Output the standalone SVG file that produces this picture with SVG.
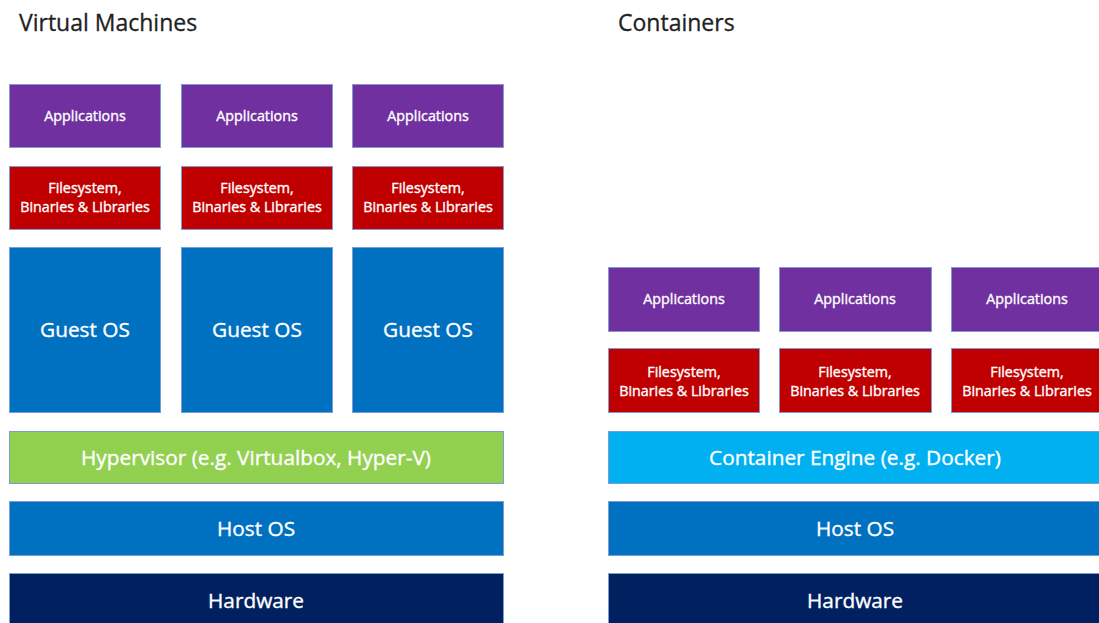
<svg xmlns="http://www.w3.org/2000/svg" width="1099" height="623" viewBox="0 0 1099 623">
<style>
rect{stroke:#7F9CD0;stroke-width:1}
rect.bg{fill:#fff;stroke:none}
.app{fill:#7030A0}
.fs{fill:#C00000}
.os{fill:#0070C0}
.hv{fill:#92D050}
.ce{fill:#00B0F0}
.hw{fill:#002060}
text{font-family:"Open Sans","DejaVu Sans",sans-serif;fill:#fff;stroke:#fff;stroke-width:0.35;text-anchor:middle}
.s{font-size:14.3px}
.l{font-size:20.8px}
.t{font-size:23px;fill:#222;stroke:#222;stroke-width:0.3;text-anchor:start}
</style>
<rect class="bg" width="1099" height="623"/>
<text class="t" x="19" y="31">Virtual Machines</text>
<text class="t" x="618" y="31">Containers</text>

<g id="vm-app1"><rect class="app" x="9.5" y="84.5" width="151" height="63"/><text class="s" x="85" y="121">Applications</text></g>
<g id="vm-app2"><rect class="app" x="181.5" y="84.5" width="151" height="63"/><text class="s" x="257" y="121">Applications</text></g>
<g id="vm-app3"><rect class="app" x="352.5" y="84.5" width="151" height="63"/><text class="s" x="428" y="121">Applications</text></g>

<g id="vm-fs1"><rect class="fs" x="9.5" y="166.5" width="151" height="63"/><text class="s" x="85" y="193">Filesystem,</text><text class="s" x="85" y="212">Binaries &amp; Libraries</text></g>
<g id="vm-fs2"><rect class="fs" x="181.5" y="166.5" width="151" height="63"/><text class="s" x="257" y="193">Filesystem,</text><text class="s" x="257" y="212">Binaries &amp; Libraries</text></g>
<g id="vm-fs3"><rect class="fs" x="352.5" y="166.5" width="151" height="63"/><text class="s" x="428" y="193">Filesystem,</text><text class="s" x="428" y="212">Binaries &amp; Libraries</text></g>

<g id="vm-guest1"><rect class="os" x="9.5" y="247.5" width="151" height="165"/><text class="l" x="85" y="337">Guest OS</text></g>
<g id="vm-guest2"><rect class="os" x="181.5" y="247.5" width="151" height="165"/><text class="l" x="257" y="337">Guest OS</text></g>
<g id="vm-guest3"><rect class="os" x="352.5" y="247.5" width="151" height="165"/><text class="l" x="428" y="337">Guest OS</text></g>

<g id="vm-hypervisor"><rect class="hv" x="9.5" y="431.5" width="494" height="52"/><text class="l" x="256" y="465">Hypervisor (e.g. Virtualbox, Hyper-V)</text></g>
<g id="vm-hostos"><rect class="os" x="9.5" y="501.5" width="494" height="54"/><text class="l" x="256" y="536">Host OS</text></g>
<g id="vm-hardware"><rect class="hw" x="9.5" y="573.5" width="494" height="52"/><text class="l" x="256" y="608">Hardware</text></g>

<g id="c-app1"><rect class="app" x="608.5" y="267.5" width="151" height="64"/><text class="s" x="684" y="304">Applications</text></g>
<g id="c-app2"><rect class="app" x="779.5" y="267.5" width="152" height="64"/><text class="s" x="855" y="304">Applications</text></g>
<g id="c-app3"><rect class="app" x="951.5" y="267.5" width="152" height="64"/><text class="s" x="1027" y="304">Applications</text></g>

<g id="c-fs1"><rect class="fs" x="608.5" y="348.5" width="151" height="64"/><text class="s" x="684" y="377">Filesystem,</text><text class="s" x="684" y="396">Binaries &amp; Libraries</text></g>
<g id="c-fs2"><rect class="fs" x="779.5" y="348.5" width="152" height="64"/><text class="s" x="855" y="377">Filesystem,</text><text class="s" x="855" y="396">Binaries &amp; Libraries</text></g>
<g id="c-fs3"><rect class="fs" x="951.5" y="348.5" width="152" height="64"/><text class="s" x="1027" y="377">Filesystem,</text><text class="s" x="1027" y="396">Binaries &amp; Libraries</text></g>

<g id="c-engine"><rect class="ce" x="608.5" y="431.5" width="495" height="52"/><text class="l" x="855" y="465">Container Engine (e.g. Docker)</text></g>
<g id="c-hostos"><rect class="os" x="608.5" y="501.5" width="495" height="54"/><text class="l" x="855" y="536">Host OS</text></g>
<g id="c-hardware"><rect class="hw" x="608.5" y="573.5" width="495" height="52"/><text class="l" x="855" y="608">Hardware</text></g>
<g id="connectors"></g>
</svg>
